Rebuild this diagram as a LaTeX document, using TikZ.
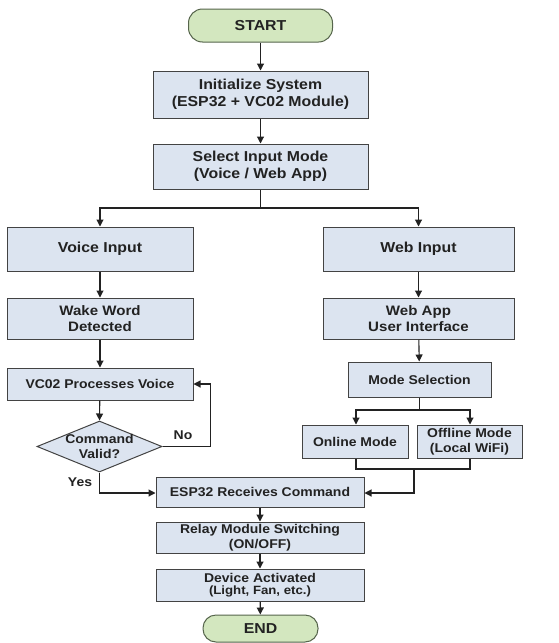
\documentclass[tikz,border=0pt]{standalone}
\usepackage{fontspec}
\setmainfont{Liberation Sans}[FakeStretch=1.1]
\usetikzlibrary{arrows.meta,shapes.geometric}
\definecolor{boxfill}{HTML}{DCE4F0}
\definecolor{termfill}{HTML}{D3E7BF}
\definecolor{termdraw}{HTML}{56654C}
\definecolor{ink}{HTML}{222222}
\newcommand{\fbig}{\fontsize{14.4}{17}\selectfont\bfseries}
\newcommand{\fmid}{\fontsize{13.7}{16}\selectfont\bfseries}
\newcommand{\fsml}{\fontsize{12.7}{15.5}\selectfont\bfseries}
\newcommand{\ftiny}{\fontsize{12}{14}\selectfont\bfseries}
\begin{document}
\begin{tikzpicture}[x=1pt,y=-1pt,
  proc/.style={draw=ink!85, line width=1pt, fill=boxfill, rectangle, align=center, text=ink, inner sep=0pt},
  term/.style={draw=termdraw, line width=1pt, fill=termfill, rectangle, rounded corners=14pt, align=center, text=ink, inner sep=0pt},
  decision/.style={draw=ink!85, line width=1pt, fill=boxfill, diamond, inner sep=0pt},
  arr/.style={draw=ink, line width=1.1pt, -{Triangle[length=7pt,width=7pt]}},
  ln/.style={draw=ink, line width=1.1pt},
  lbl/.style={text=ink, inner sep=0pt, align=center}]
\useasboundingbox (0,0) rectangle (558,643);
\fill[white] (0,0) rectangle (558,643);

\node[term, minimum width=144pt, minimum height=33pt, font=\fbig] (start) at (260.5,25.5) {START};
\node[proc, minimum width=215pt, minimum height=47pt, font=\fbig] (init) at (260.5,94.5) {Initialize System\\(ESP32 + VC02 Module)};
\node[proc, minimum width=215pt, minimum height=45pt, font=\fbig] (sel) at (260.5,166.5) {Select Input Mode\\(Voice / Web App)};

\node[proc, minimum width=186pt, minimum height=44pt, font=\fbig] (voice) at (100,249) {Voice Input};
\node[proc, minimum width=191pt, minimum height=44pt, font=\fbig] (web) at (418.5,249) {Web Input};
\node[proc, minimum width=186pt, minimum height=41pt, font=\fmid] (wake) at (100,318.5) {Wake Word\\Detected};
\node[proc, minimum width=191pt, minimum height=41pt, font=\fmid] (webapp) at (418.5,318.5) {Web App\\User Interface};
\node[proc, minimum width=186pt, minimum height=32pt, font=\fsml] (vc) at (100,384) {VC02 Processes Voice};
\node[proc, minimum width=143pt, minimum height=35pt, font=\fsml] (mode) at (419.5,379.5) {Mode Selection};
\node[proc, minimum width=106pt, minimum height=33pt, font=\fsml] (online) at (355,441.5) {Online Mode};
\node[proc, minimum width=105pt, minimum height=33pt, font=\fsml] (offline) at (469.5,441.5) {Offline Mode\\(Local WiFi)};

\node[decision, minimum width=125pt, minimum height=51pt,
      label={[lbl, font=\fsml]center:{Command\\Valid?}}] (dia) at (99.5,446.5) {};

\node[proc, minimum width=208pt, minimum height=30pt, font=\fsml] (esp) at (260,492) {ESP32 Receives Command};
\node[proc, minimum width=208pt, minimum height=31pt, font=\fsml] (relay) at (260,537.5) {Relay Module Switching\\(ON/OFF)};
\node[proc, minimum width=208pt, minimum height=32pt] (dev) at (260,585) {{\fsml Device Activated}\\{\ftiny (Light, Fan, etc.)}};
\node[term, minimum width=115pt, minimum height=27pt, rounded corners=13pt, font=\fbig] (end) at (260.5,628.5) {END};

\coordinate (split) at (260.5,208);
\coordinate (msplit) at (419.5,410);
\coordinate (mjoin) at (414,469);

\draw[arr] (start) -- (init);
\draw[arr] (init) -- (sel);
\draw[ln] (sel.south) -- (split);
\draw[arr] (split) -| (voice.north);
\draw[arr] (split) -| (web.north);
\draw[arr] (voice) -- (wake);
\draw[arr] (wake) -- (vc);
\draw[arr] (vc) -- (dia.north);
\draw[arr] (web) -- (webapp);
\draw[arr] (webapp) -- (mode);
\draw[ln] (mode.south) -- (msplit);
\draw[arr] (msplit) -| ([xshift=1pt]online.north);
\draw[arr] (msplit) -| ([xshift=0.5pt]offline.north);
\draw[ln] ([xshift=1pt]online.south) |- (mjoin) -| ([xshift=0.5pt]offline.south);
\draw[arr] (mjoin) |- ([yshift=-1pt]esp.east);
\draw[arr] (dia.east) -- ++(48,0) |- (vc.east);
\draw[arr] (dia.south) |- ([yshift=-1pt]esp.west);
\draw[arr] (esp) -- (relay);
\draw[arr] (relay) -- (dev);
\draw[arr] (dev) -- (end);

\node[lbl, font=\fsml] (no) at (183,435) {No};
\node[lbl, font=\fsml] (yes) at (80,482) {Yes};
\end{tikzpicture}
\end{document}
